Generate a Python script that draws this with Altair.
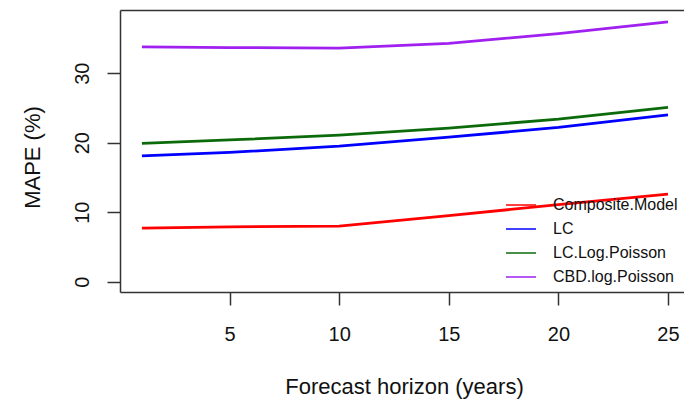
import altair as alt
import pandas as pd

# Forecast horizon in years and mean absolute percentage error for each model
years = [1, 5, 10, 15, 20, 25]
composite_model = [7.7, 7.9, 8.0, 9.5, 11.1, 12.6]
lc = [18.1, 18.6, 19.5, 20.8, 22.2, 24.0]
lc_log_poisson = [19.9, 20.4, 21.1, 22.1, 23.4, 25.1]
cbd_log_poisson = [33.8, 33.7, 33.6, 34.3, 35.7, 37.4]

models = ["Composite.Model", "LC", "LC.Log.Poisson", "CBD.log.Poisson"]
colors = ["#FF0000", "#0000FF", "#0B6B0B", "#A020F0"]
series = [composite_model, lc, lc_log_poisson, cbd_log_poisson]

rows = []
for name, vals in zip(models, series):
    for yr, v in zip(years, vals):
        rows.append({"horizon": yr, "mape": v, "model": name})
df = pd.DataFrame(rows)

FONT = "Liberation Sans"
INK = "#111111"
x_scale = alt.Scale(domain=[0, 25.73], nice=False, zero=False)
y_scale = alt.Scale(domain=[-1.48, 39.1], nice=False, zero=False)

lines = alt.Chart(df).mark_line(strokeWidth=2.8, clip=True).encode(
    x=alt.X(
        "horizon:Q",
        scale=x_scale,
        axis=alt.Axis(
            title="Forecast horizon (years)",
            values=[5, 10, 15, 20, 25],
            grid=False,
            tickSize=13,
            tickWidth=1.5,
            tickColor="#333333",
            domainColor="#333333",
            domainWidth=1.5,
            labelFont=FONT,
            labelFontSize=20,
            labelColor=INK,
            labelPadding=19,
            titleFont=FONT,
            titleFontSize=22,
            titleFontWeight="normal",
            titleColor=INK,
            titleX=284,
            titleY=101,
            titleAlign="center",
            titleBaseline="alphabetic",
        ),
    ),
    y=alt.Y(
        "mape:Q",
        scale=y_scale,
        axis=alt.Axis(
            title="MAPE (%)",
            values=[0, 10, 20, 30],
            grid=False,
            tickSize=13,
            tickWidth=1.5,
            tickColor="#333333",
            domainColor="#333333",
            domainWidth=1.5,
            labelFont=FONT,
            labelFontSize=20,
            labelColor=INK,
            labelAngle=270,
            labelAlign="center",
            labelBaseline="bottom",
            labelPadding=15,
            titleFont=FONT,
            titleFontSize=22,
            titleFontWeight="normal",
            titleColor=INK,
            titleAngle=270,
            titleX=-88,
            titleY=147,
            titleAlign="center",
            titleBaseline="middle",
        ),
    ),
    color=alt.Color(
        "model:N",
        scale=alt.Scale(domain=models, range=colors),
        sort=models,
        legend=alt.Legend(
            title=None,
            orient="none",
            legendX=385,
            legendY=179,
            symbolType="stroke",
            symbolSize=900,
            symbolStrokeWidth=1.5,
            labelFont=FONT,
            labelFontSize=16,
            labelColor=INK,
            labelOffset=16,
            rowPadding=-3,
        ),
    ),
)

# Top edge of the plot frame, drawn as a bare axis line
frame_top = alt.Chart(df).mark_line(opacity=0).encode(
    x=alt.X(
        "horizon:Q",
        scale=x_scale,
        axis=alt.Axis(
            orient="top",
            title=None,
            labels=False,
            ticks=False,
            grid=False,
            domainColor="#333333",
            domainWidth=1.5,
        ),
    ),
    y=alt.Y("mape:Q", scale=y_scale),
)

chart = (
    alt.layer(lines, frame_top)
    .resolve_axis(x="independent")
    .properties(
        width=564,
        height=282,
        autosize=alt.AutoSizeParams(type="none"),
        padding={"left": 120, "top": 10, "right": 0, "bottom": 108},
        background="white",
    )
    .configure_view(stroke=None)
)

chart.save("out.html", embed_options={"renderer": "svg", "actions": False})
